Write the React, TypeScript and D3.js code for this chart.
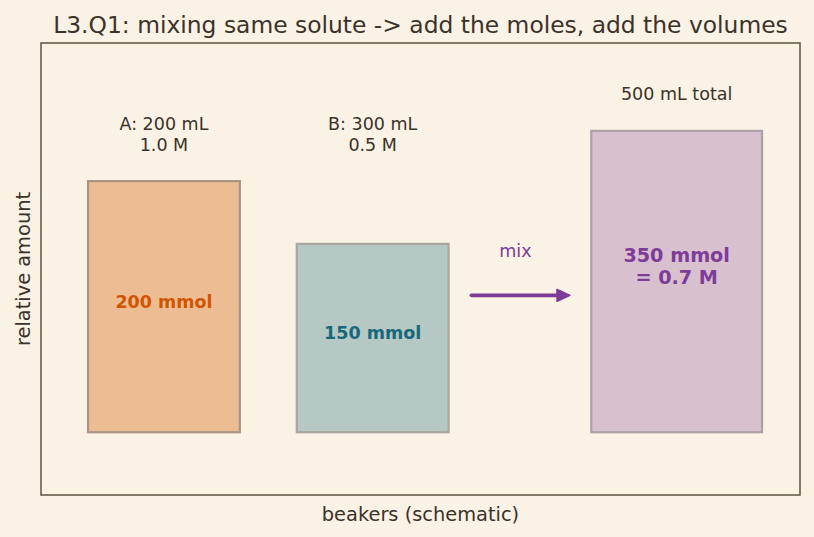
import React from "react";
import * as d3 from "d3";

const W = 814;
const H = 537;

const TITLE = "L3.Q1: mixing same solute -> add the moles, add the volumes";
const X_LABEL = "beakers (schematic)";
const Y_LABEL = "relative amount";

// beaker data (schematic units)
const beakerIds = ["A", "B", "C"];
const beakerX0 = [0.62, 3.37, 7.25];
const beakerWidth = [2.0, 2.0, 2.25];
const beakerBottom = [0.5, 0.5, 0.5];
const beakerTop = [2.5, 2.0, 2.9];
const beakerFill = ["#ecbd92", "#b6c8c3", "#d8c0cf"];
const beakerStroke = ["#aa9584", "#a8a69e", "#ad9fa6"];
const beakerTextColor = ["#d35400", "#17697a", "#7d3c98"];
const innerLabels = [["200 mmol"], ["150 mmol"], ["350 mmol", "= 0.7 M"]];
const innerLabelY = [1.54, 1.29, 1.82];
const innerLabelSize = [17.5, 17.5, 19.2];
const topLabels = [["A: 200 mL", "1.0 M"], ["B: 300 mL", "0.5 M"], ["500 mL total"]];
const topLabelY = [2.87, 2.87, 3.19];

const arrowX = [5.67, 6.97];
const arrowY = 1.59;
const mixLabelX = 6.25;
const mixLabelY = 1.94;

const XLIM = [0, 10];
const YLIM = [0, 3.6];

const BG = "#faf2e4";
const INK = "#3b322a";
const SPINE = "#5e5243";
const PURPLE = "#7d3c98";
const FONT = "DejaVu Sans, sans-serif";

export default function App() {
  const left = 41, right = 800, top = 43, bottom = 495;
  const x = d3.scaleLinear().domain(XLIM).range([left, right]);
  const y = d3.scaleLinear().domain(YLIM).range([bottom, top]);

  const lineH = 20.5;

  const ax0 = x(arrowX[0]);
  const ax1 = x(arrowX[1]);
  const ay = y(arrowY);
  const headL = 13;
  const headW = 6;

  return (
    <svg
      width={W}
      height={H}
      style={{ position: "absolute", left: 0, top: 0, background: BG }}
      fontFamily={FONT}
    >
      <rect x={0} y={0} width={W} height={H} fill={BG} />
      <text x={(left + right) / 2} y={25} textAnchor="middle" dominantBaseline="central" fontSize={23.4} fill={INK}>
        {TITLE}
      </text>

      {beakerIds.map((id, i) => (
        <g key={id}>
          <rect
            x={x(beakerX0[i])}
            y={y(beakerTop[i])}
            width={x(beakerX0[i] + beakerWidth[i]) - x(beakerX0[i])}
            height={y(beakerBottom[i]) - y(beakerTop[i])}
            fill={beakerFill[i]}
            stroke={beakerStroke[i]}
            strokeWidth={2.2}
          />
          {innerLabels[i].map((t, j) => (
            <text
              key={j}
              x={x(beakerX0[i] + beakerWidth[i] / 2)}
              y={y(innerLabelY[i]) + (j - (innerLabels[i].length - 1) / 2) * (innerLabelSize[i] * 1.16)}
              textAnchor="middle"
              dominantBaseline="central"
              fontSize={innerLabelSize[i]}
              fontWeight="bold"
              fill={beakerTextColor[i]}
            >
              {t}
            </text>
          ))}
          {topLabels[i].map((t, j) => (
            <text
              key={j}
              x={x(beakerX0[i] + beakerWidth[i] / 2)}
              y={y(topLabelY[i]) + (j - (topLabels[i].length - 1) / 2) * lineH}
              textAnchor="middle"
              dominantBaseline="central"
              fontSize={17.5}
              fill={INK}
            >
              {t}
            </text>
          ))}
        </g>
      ))}

      <line
        x1={ax0}
        y1={ay}
        x2={ax1 - headL + 2}
        y2={ay}
        stroke={PURPLE}
        strokeWidth={3.6}
        strokeLinecap="round"
      />
      <path
        d={`M${ax1},${ay} L${ax1 - headL},${ay - headW} L${ax1 - headL},${ay + headW} Z`}
        fill={PURPLE}
        stroke={PURPLE}
        strokeWidth={1.5}
        strokeLinejoin="round"
      />
      <text x={x(mixLabelX)} y={y(mixLabelY)} textAnchor="middle" dominantBaseline="central" fontSize={17.5} fill={PURPLE}>
        mix
      </text>

      <rect x={left} y={top} width={right - left} height={bottom - top} fill="none" stroke={SPINE} strokeWidth={1.5} />

      <text x={(left + right) / 2} y={514} textAnchor="middle" dominantBaseline="central" fontSize={19.4} fill={INK}>
        {X_LABEL}
      </text>
      <text
        transform={`translate(23, ${(top + bottom) / 2}) rotate(-90)`}
        textAnchor="middle"
        dominantBaseline="central"
        fontSize={19.4}
        fill={INK}
      >
        {Y_LABEL}
      </text>
    </svg>
  );
}
